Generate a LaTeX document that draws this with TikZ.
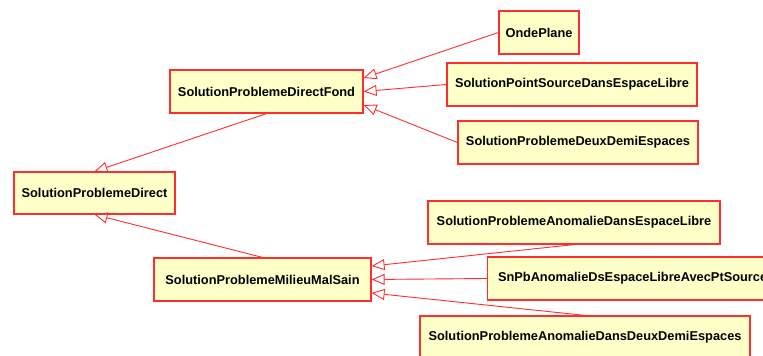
\documentclass[tikz,border=0pt]{standalone}
\usepackage{fontspec}
\setmainfont{Liberation Sans}
\usetikzlibrary{arrows.meta}
\definecolor{boxfill}{RGB}{255,255,200}
\definecolor{umlred}{RGB}{255,45,45}
\tikzstyle{block} = [rectangle, minimum height=43pt, inner sep=0pt, fill=boxfill, draw=umlred, line width=1.2pt, font=\fontsize{12.8}{15}\bfseries\selectfont, text centered]
\tikzstyle{arrow} = [-{Triangle[open,length=13pt,width=11pt]}, draw=umlred, line width=0.9pt]
\newcommand{\headshift}{13.5pt}

\begin{document}
\begin{tikzpicture}[x=1pt,y=-1pt]

  %\draw[help lines] (0,0) grid (763,356);
  \useasboundingbox (0,0) rectangle (763,356);

  % Root class
  \node [block, minimum width=161pt, minimum height=42pt] (direct) at (94.5,193) {SolutionProblemeDirect};

  % Background branch
  \node [block, minimum width=193pt] (fond) at (266.5,91.5) {SolutionProblemeDirectFond};
  \node [block, minimum width=80pt] (onde) at (539,32.5) {OndePlane};
  \node [block, minimum width=250pt] (pointSource) at (572,84.5) {SolutionPointSourceDansEspaceLibre};
  \node [block, minimum width=240pt] (deuxDemi) at (578,142.5) {SolutionProblemeDeuxDemiEspaces};

  % Unhealthy medium branch
  \node [block, minimum width=217pt] (malSain) at (262.5,279.5) {SolutionProblemeMilieuMalSain};
  \node [block, minimum width=292pt] (anomLibre) at (574,222.5) {SolutionProblemeAnomalieDansEspaceLibre};
  \node [block, anchor=west, minimum width=290pt] (anomPtSource) at (487,278.5) {SnPbAnomalieDsEspaceLibreAvecPtSource};
  \node [block, minimum width=330pt] (anomDeux) at (585,337.5) {SolutionProblemeAnomalieDansDeuxDemiEspaces};

  % Generalisations to the root
  \draw [arrow] (fond.south) -- (direct.north);
  \draw [arrow] (malSain.north) -- (direct.south);

  % Generalisations to the background solution
  \draw [arrow] (onde.west) -- ([yshift=\headshift]fond.east);
  \draw [arrow] (pointSource.west) -- (fond.east);
  \draw [arrow] (deuxDemi.west) -- ([yshift=-\headshift]fond.east);

  % Generalisations to the unhealthy medium solution
  \draw [arrow] (anomLibre.south) -- ([yshift=\headshift]malSain.east);
  \draw [arrow] (anomPtSource.west) -- (malSain.east);
  \draw [arrow] (anomDeux.north) -- ([yshift=-\headshift]malSain.east);

\end{tikzpicture}
\end{document}
